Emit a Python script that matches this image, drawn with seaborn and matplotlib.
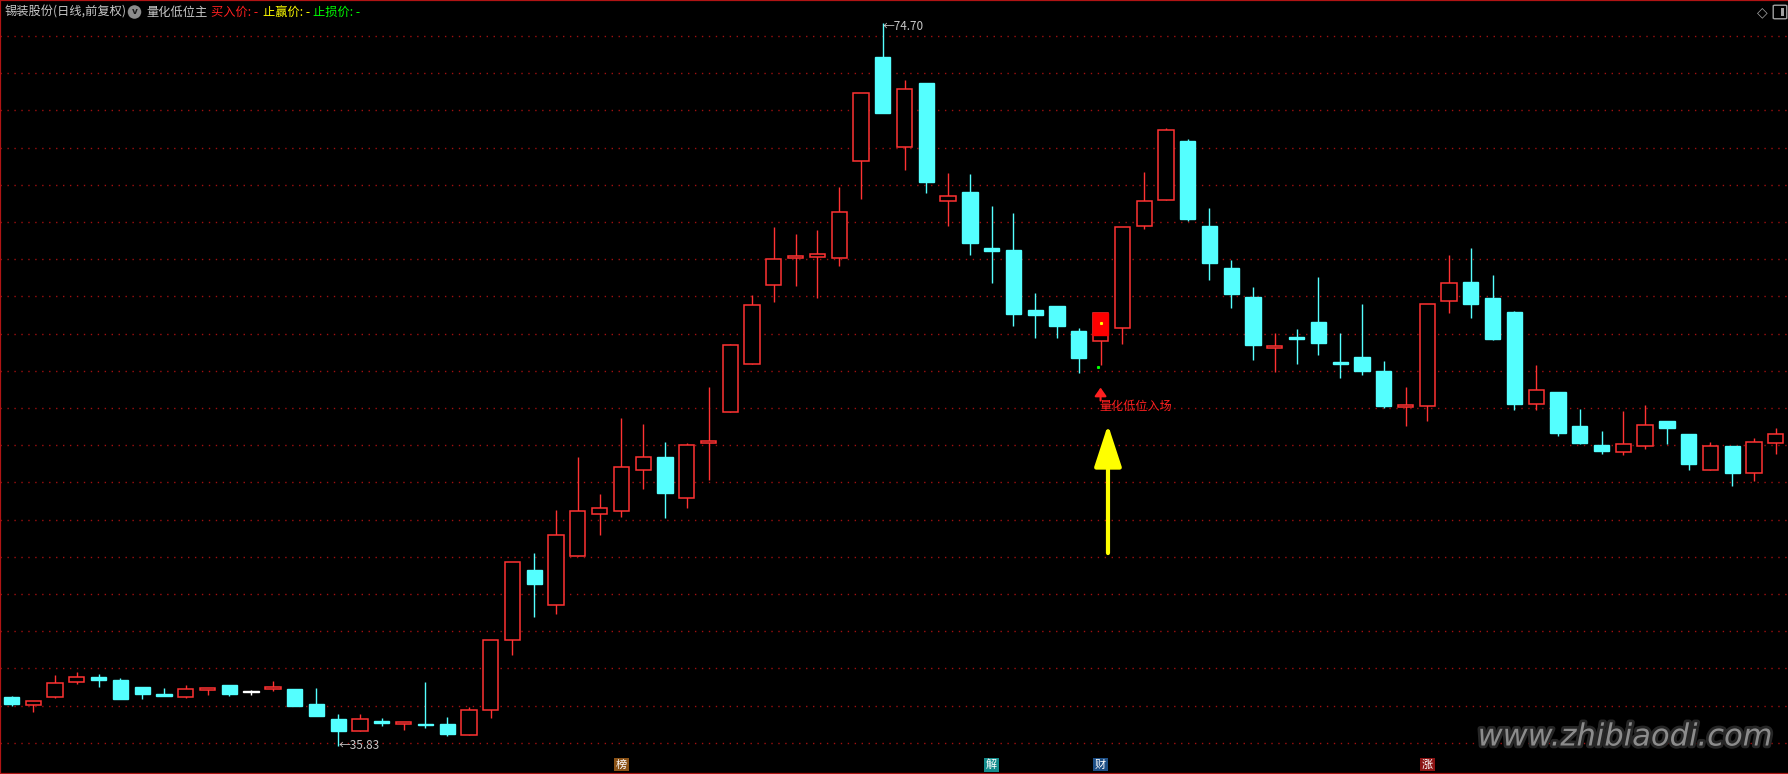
import numpy as np
import pandas as pd
import matplotlib
matplotlib.use('Agg')
import matplotlib.pyplot as plt
import matplotlib.patheffects as pe
import seaborn as sns
from matplotlib.patches import FancyBboxPatch

# 日K线数据 (开 高 低 收)
opens = [38.45, 38.05, 38.47, 39.28, 39.51, 39.37, 38.99, 38.61, 38.47, 38.85,
         39.10, 38.76, 38.90, 38.88, 38.07, 37.26, 36.63, 37.17, 37.01, 36.99,
         36.99, 36.41, 37.77, 41.55, 45.31, 43.41, 46.06, 48.31, 48.47, 50.67,
         51.39, 49.17, 52.12, 53.77, 56.34, 60.63, 62.08, 62.12, 62.08, 67.28,
         72.89, 68.04, 71.49, 65.13, 65.59, 62.59, 62.48, 59.26, 59.47, 58.13,
         57.61, 58.31, 63.79, 65.18, 68.38, 63.77, 61.52, 59.96, 57.24, 57.81,
         58.62, 56.42, 56.74, 55.99, 54.07, 54.12, 59.77, 60.77, 59.91, 59.17,
         54.24, 54.87, 53.04, 52.02, 51.66, 51.98, 53.31, 52.61, 50.69, 51.96,
         50.48, 52.11]
highs = [38.50, 38.27, 39.64, 39.78, 39.69, 39.48, 38.99, 38.94, 39.10, 38.94,
         39.10, 38.83, 39.32, 38.88, 38.94, 37.53, 37.53, 37.32, 37.10, 39.26,
         37.37, 37.93, 41.55, 45.74, 46.18, 48.49, 51.39, 49.38, 53.48, 53.16,
         52.19, 52.14, 55.14, 57.45, 60.07, 63.71, 63.35, 63.56, 65.86, 70.95,
         74.70, 71.66, 71.49, 66.66, 66.61, 64.84, 64.47, 60.17, 59.47, 58.29,
         59.10, 63.75, 66.67, 69.08, 68.49, 64.73, 61.95, 60.50, 58.03, 58.24,
         61.04, 58.03, 59.59, 56.52, 55.13, 59.59, 62.22, 62.60, 61.16, 59.22,
         56.32, 54.87, 53.95, 52.77, 53.85, 54.17, 53.31, 52.61, 52.18, 51.96,
         52.39, 52.93]
lows = [37.98, 37.66, 38.41, 39.17, 39.01, 38.36, 38.36, 38.52, 38.41, 38.58,
        38.52, 38.58, 38.79, 37.98, 37.44, 35.83, 36.63, 36.90, 36.68, 36.79,
        36.36, 36.41, 37.33, 40.73, 42.77, 42.93, 46.06, 47.17, 48.15, 49.65,
        48.08, 48.62, 50.14, 53.77, 56.34, 59.69, 60.55, 59.94, 61.62, 65.23,
        69.84, 66.78, 65.55, 63.77, 62.21, 60.71, 58.40, 57.76, 57.76, 55.88,
        56.31, 57.45, 63.62, 65.18, 64.04, 60.87, 59.39, 56.59, 55.95, 56.38,
        56.85, 55.63, 55.77, 54.00, 53.03, 53.30, 59.10, 58.84, 57.65, 53.92,
        53.92, 52.52, 52.04, 51.55, 51.50, 51.82, 52.04, 50.64, 50.69, 49.78,
        50.05, 51.55]
closes = [38.09, 38.27, 39.24, 39.51, 39.39, 38.36, 38.63, 38.52, 38.88, 38.94,
          38.63, 38.76, 38.99, 37.98, 37.44, 36.63, 37.30, 37.06, 37.10, 36.95,
          36.45, 37.75, 41.55, 45.74, 44.54, 47.18, 48.47, 48.63, 50.83, 51.37,
          49.42, 52.01, 52.23, 57.37, 59.52, 61.99, 62.14, 62.26, 64.52, 70.95,
          69.84, 71.13, 66.18, 65.42, 62.86, 62.44, 59.04, 58.99, 58.40, 56.68,
          59.10, 63.75, 65.14, 68.96, 64.14, 61.78, 60.14, 57.40, 57.33, 57.72,
          57.49, 56.38, 55.99, 54.10, 54.16, 59.59, 60.72, 59.59, 57.71, 54.24,
          54.96, 52.68, 52.14, 51.71, 52.05, 53.08, 52.90, 51.01, 51.96, 50.53,
          52.18, 52.61]

# 信号与标注
signal_day = 50
signal_top = 59.10
signal_bottom = 57.92
grid_levels = np.arange(36, 75, 2)
tag_days = [28, 45, 50, 65]
tag_texts = ['榜', '解', '财', '涨']
tag_colors = ['#8a5216', '#138c8c', '#1d4f86', '#8c1414']

df = pd.DataFrame({'open': opens, 'high': highs, 'low': lows, 'close': closes})
df['day'] = np.arange(len(df))

RED = '#ff3232'
CYAN = '#54ffff'

sns.set_style('dark', {'axes.facecolor': 'black', 'figure.facecolor': 'black'})
plt.rcParams['font.family'] = ['Noto Sans CJK SC', 'DejaVu Sans']

fig = plt.figure(figsize=(17.88, 7.74), dpi=100)
ax = fig.add_axes([0, 0, 1, 1])
ax.set_facecolor('black')

up = df[df.close > df.open]
down = df[df.close < df.open]
flat = df[df.close == df.open]

# 影线
wick_colors = np.where(df.close > df.open, RED, np.where(df.close < df.open, CYAN, 'white'))
ax.vlines(df.day, df.low, df.high, colors=wick_colors, lw=1.0, zorder=2)

# 实体
w = 0.7
ax.bar(up.day, (up.close - up.open).clip(lower=0.07), bottom=up.open, width=w,
       facecolor='black', edgecolor=RED, lw=1.1, zorder=3)
ax.bar(down.day, (down.open - down.close).clip(lower=0.07), bottom=down.close, width=w,
       color=CYAN, edgecolor=CYAN, lw=1.0, zorder=3)
ax.bar(flat.day, 0.05, bottom=flat.open - 0.025, width=w,
       color='white', edgecolor='white', lw=1.0, zorder=3)

# 量化低位信号
ax.bar(signal_day, signal_top - signal_bottom, bottom=signal_bottom, width=w,
       color='#ff0000', edgecolor='#ff0000', lw=1.0, zorder=4)
ax.plot(signal_day, (signal_top + signal_bottom) / 2 + 0.05, marker='s', ms=1.2,
        color='#ffff00', zorder=5)
ax.plot(signal_day - 0.1, 56.22, marker='s', ms=1.2, color='#00ff00', zorder=5)
ax.annotate('', xy=(signal_day, 55.1), xytext=(signal_day, 54.4),
            arrowprops=dict(arrowstyle='-|>,head_length=0.5,head_width=0.35',
                            color='#ff2020', lw=1.5, mutation_scale=10,
                            shrinkA=0, shrinkB=0), zorder=5)
ax.text(signal_day - 0.05, 54.1, '量化低位入场', color='#ff2020', fontsize=8.7,
        ha='left', va='center', zorder=5)

# 黄色箭头
ax.annotate('', xy=(50.34, 53.1), xytext=(50.34, 46.2),
            arrowprops=dict(arrowstyle='-|>,head_length=2.6,head_width=0.85',
                            color='#ffff00', lw=3, mutation_scale=10,
                            shrinkA=0, shrinkB=0), zorder=5)

# 最高最低价
hi_day = int(np.argmax(highs))
lo_day = int(np.argmin(lows))
ax.text(hi_day, max(highs) - 0.2, '←%.2f' % max(highs), color='#c8c8c8',
        fontsize=8.5, ha='left', va='center', zorder=5)
ax.text(lo_day, min(lows), '←%.2f' % min(lows), color='#c8c8c8',
        fontsize=8.5, ha='left', va='center', zorder=5)

# 底部标签
for d, t, c in zip(tag_days, tag_texts, tag_colors):
    ax.text(d, 0.012, t, transform=ax.get_xaxis_transform(), color='white',
            fontsize=8, ha='center', va='center',
            bbox=dict(boxstyle='square,pad=0.15', fc=c, ec='none'), zorder=6)

ax.set_xlim(-0.528, 81.56)
ax.set_ylim(34.32, 75.94)
ax.set_yticks(grid_levels)
ax.set_xticks([])
ax.tick_params(length=0, labelleft=False, labelbottom=False)
ax.grid(False)
ax.grid(axis='y', color='#a01010', linestyle=(0, (1, 4)), lw=1.0)
for s in ['left', 'top', 'bottom']:
    ax.spines[s].set_visible(True)
    ax.spines[s].set_color('#b01414')
    ax.spines[s].set_linewidth(1.6)
ax.spines['right'].set_visible(False)

# 标题行
ty = 1 - 12 / 774
fig.text(5 / 1788, ty, '锡装股份(日线,前复权)', color='#c8c8c8', fontsize=8.8, va='center')
fig.text(134.5 / 1788, ty, 'v', color='#1a1a1a', fontsize=6.5, va='center', ha='center',
         family='DejaVu Sans', weight='bold',
         bbox=dict(boxstyle='circle,pad=0.25', fc='#8c8c8c', ec='none'))
fig.text(146 / 1788, ty, '量化低位主', color='#c8c8c8', fontsize=8.8, va='center')
fig.text(211 / 1788, ty, '买入价: -', color='#ff2020', fontsize=8.8, va='center')
fig.text(263 / 1788, ty, '止赢价: -', color='#ffff00', fontsize=8.8, va='center')
fig.text(313 / 1788, ty, '止损价: -', color='#00ff00', fontsize=8.8, va='center')

# 右上角图标
fig.text(1762 / 1788, ty, '◇', color='#a0a0a0', fontsize=10, va='center', ha='center',
         family='DejaVu Sans')
fig.patches.append(FancyBboxPatch((1775 / 1788, 1 - 18 / 774), 10 / 1788, 12 / 774,
                                  boxstyle='round,pad=0.001', fc='none', ec='#a0a0a0',
                                  lw=1, transform=fig.transFigure, figure=fig))
fig.patches.append(FancyBboxPatch((1781 / 1788, 1 - 16 / 774), 3 / 1788, 8 / 774,
                                  boxstyle='square,pad=0', fc='#a0a0a0', ec='none',
                                  transform=fig.transFigure, figure=fig))

# 水印
fig.text(1625 / 1788, 1 - 737 / 774, 'www.zhibiaodi.com', color='#8c8c8c', fontsize=22,
         style='italic', family='DejaVu Sans', ha='center', va='center',
         path_effects=[pe.withStroke(linewidth=4, foreground='#262626')])

fig.savefig('out.png', dpi=100, facecolor='black')
